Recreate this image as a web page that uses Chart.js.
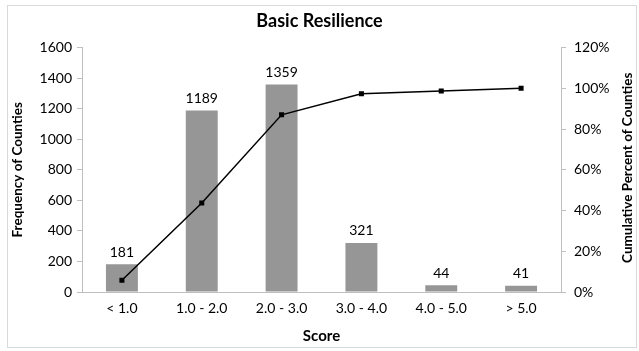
<!DOCTYPE html>
<html>
<head>
<meta charset="utf-8">
<script src="https://cdn.jsdelivr.net/npm/chart.js@4"></script>
<style>
  body { margin: 0; background: #fff; }
  #wrap { width: 639px; height: 351px; }
</style>
</head>
<body>
<div id="wrap"><canvas id="myChart" width="639" height="351"></canvas></div>
<script>
const scoreLabels = ['< 1.0', '1.0 - 2.0', '2.0 - 3.0', '3.0 - 4.0', '4.0 - 5.0', '> 5.0']
const frequencyData = [181, 1189, 1359, 321, 44, 41]
const cumulativeData = [5.8, 43.7, 87.0, 97.3, 98.7, 100]

const fontFamily = 'Lato, "Open Sans", sans-serif'

// numbers over the bars + frame + right axis title
const extras = {
  id: 'extras',
  afterDatasetsDraw(chart) {
    const ctx = chart.ctx
    const meta = chart.getDatasetMeta(1)
    ctx.save()
    ctx.fillStyle = '#000'
    ctx.font = '14px ' + fontFamily
    ctx.textAlign = 'center'
    ctx.textBaseline = 'middle'
    meta.data.forEach((bar, i) => {
      ctx.fillText(frequencyData[i], bar.x, bar.y - 12)
    })
    ctx.restore()
  },
  afterDraw(chart) {
    const ctx = chart.ctx
    const y1 = chart.scales.y1
    ctx.save()
    ctx.strokeStyle = '#d9d9d9'
    ctx.lineWidth = 1
    ctx.strokeRect(7.5, 5.5, 629, 342)
    ctx.translate(628, (y1.top + y1.bottom) / 2 - 2)
    ctx.rotate(-Math.PI / 2)
    ctx.font = 'bold 13.5px ' + fontFamily
    ctx.textAlign = 'center'
    ctx.textBaseline = 'middle'
    ctx.fillStyle = '#000'
    ctx.fillText('Cumulative Percent of Counties', 0, 0)
    ctx.restore()
  }
}

const ctx = document.getElementById('myChart').getContext('2d')

const chart = new Chart(ctx, {
  data: {
    labels: scoreLabels,
    datasets: [
      {
        type: 'line',
        label: 'Cumulative',
        data: cumulativeData,
        yAxisID: 'y1',
        borderColor: '#000',
        backgroundColor: '#000',
        borderWidth: 1.5,
        pointStyle: 'rect',
        pointRadius: 2.5,
        tension: 0
      },
      {
        type: 'bar',
        label: 'Frequency',
        data: frequencyData,
        yAxisID: 'y',
        backgroundColor: '#969696',
        barPercentage: 0.4,
        categoryPercentage: 1
      }
    ]
  },
  options: {
    responsive: false,
    animation: false,
    layout: { padding: { left: 0, right: 0, top: 0, bottom: 0 } },
    plugins: {
      legend: { display: false },
      tooltip: { enabled: false },
      title: {
        display: true,
        text: 'Basic Resilience',
        color: '#000',
        font: { family: fontFamily, size: 18, weight: 'bold' },
        padding: { top: 10, bottom: 16 }
      }
    },
    scales: {
      x: {
        grid: { display: false },
        border: { display: true, color: '#bfbfbf' },
        ticks: { color: '#000', font: { family: fontFamily, size: 14 }, padding: 0, maxRotation: 0 },
        title: {
          display: true,
          text: 'Score',
          color: '#000',
          font: { family: fontFamily, size: 15, weight: 'bold' },
          padding: { top: 10, bottom: 6 }
        },
        afterFit(scale) { scale.height = 59 }
      },
      y: {
        position: 'left',
        min: 0,
        max: 1600,
        ticks: {
          stepSize: 200,
          color: '#000',
          font: { family: fontFamily, size: 14 },
          padding: 5,
          callback: (v) => String(v)
        },
        grid: { drawOnChartArea: false, drawTicks: true, tickLength: 5, color: '#bfbfbf' },
        border: { display: true, color: '#bfbfbf' },
        title: {
          display: true,
          text: 'Frequency of Counties',
          color: '#000',
          font: { family: fontFamily, size: 13.5, weight: 'bold' },
          padding: 10
        },
        afterFit(scale) { scale.width = 82 }
      },
      y1: {
        position: 'right',
        min: 0,
        max: 120,
        ticks: {
          stepSize: 20,
          color: '#000',
          font: { family: fontFamily, size: 14 },
          padding: 8,
          callback: (v) => v + '%'
        },
        grid: { drawOnChartArea: false, drawTicks: true, tickLength: 5, color: '#bfbfbf' },
        border: { display: true, color: '#bfbfbf' },
        afterFit(scale) { scale.width = 78 }
      }
    }
  },
  plugins: [extras]
})
</script>
</body>
</html>
